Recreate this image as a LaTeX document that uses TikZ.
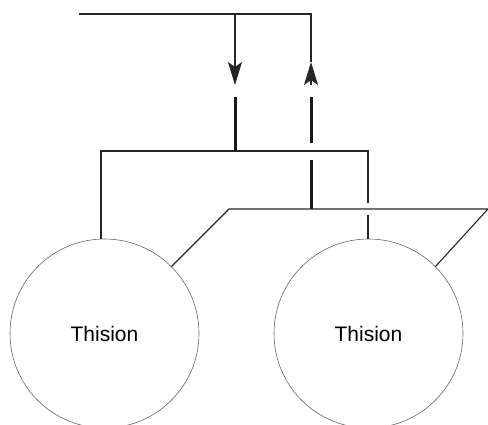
\documentclass[tikz,border=0pt]{standalone}
\usepackage{fontspec}
\setmainfont{Liberation Sans}
\usetikzlibrary{arrows.meta}
\begin{document}
\begin{tikzpicture}[x=1pt,y=-1pt,
  wire/.style={draw=black!85,line width=1.1pt},
  thickwire/.style={draw=black!90,line width=3pt},
  flow/.style={wire,-{Stealth[length=23pt,width=14pt,inset=5pt]}},
  unit/.style={circle,draw=black!60,line width=0.6pt,minimum size=189pt,inner sep=0pt,
    font=\fontsize{21}{25}\selectfont}]
\useasboundingbox (0,0) rectangle (488,425);
\clip (0,0) rectangle (488,425);

% the two units
\node[unit] (u1) at (104.5,333.5) {Thision};
\node[unit] (u2) at (368.5,333.5) {Thision};

% supply line with the down/up arrows
\coordinate (s0) at (79,14);
\coordinate (sd) at (235,14);
\coordinate (sr) at (311,14);
\coordinate (dtip) at (235,85);
\coordinate (utip) at (311,62);
\coordinate (ubase) at (311,85);
\draw[wire] (s0) -- (sr) -- (utip);
\draw[flow] (sd) -- (dtip);
\draw[flow] (ubase) -- (utip);

% upper header feeding the tops of the units
\coordinate (t1) at (101,239.1);
\coordinate (t2) at (368,239);
\coordinate (h1l) at (101,151);
\coordinate (h1r) at (368,151);
\coordinate (h1gap) at (368,203);
\coordinate (h1gap2) at (368,215);
\draw[wire] (t1) -- (h1l) -- (h1r) -- (h1gap);
\draw[wire] (h1gap2) -- (t2);

% lower header feeding the shoulders of the units
\coordinate (h2l) at (229,209);
\coordinate (h2r) at (488,209);
\draw[wire] (u1.45) -- (h2l) -- (h2r) -- (u2.45);

% heavy risers
\coordinate (ra) at (235,97);
\coordinate (rb) at (235,151);
\coordinate (rc) at (311,97);
\coordinate (rd) at (311,143);
\coordinate (re) at (311,160);
\coordinate (rf) at (311,209);
\draw[thickwire] (ra) -- (rb);
\draw[thickwire] (rc) -- (rd);
\draw[thickwire] (re) -- (rf);
\end{tikzpicture}
\end{document}
